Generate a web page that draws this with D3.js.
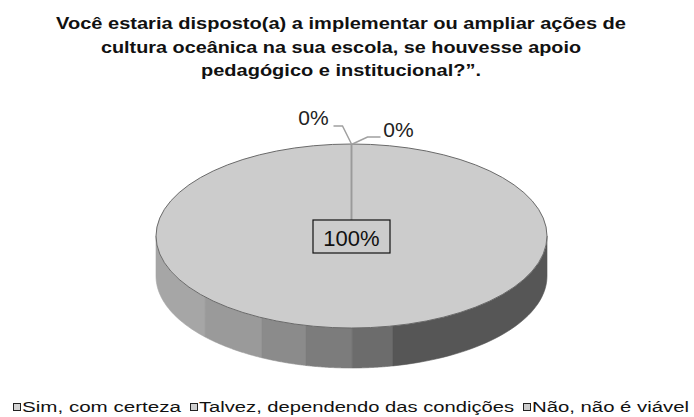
<!DOCTYPE html>
<html>
<head>
<meta charset="utf-8">
<script src="https://cdn.jsdelivr.net/npm/d3@7"></script>
<style>
  html, body { margin: 0; padding: 0; background: #ffffff; }
  svg { display: block; }
  text { font-family: "Liberation Sans", Arial, sans-serif; }
</style>
</head>
<body>
<svg id="chart" width="694" height="417"></svg>
<script>
// ---- data ----
const titleLines = [
  "Você estaria disposto(a) a implementar ou ampliar ações de",
  "cultura oceânica na sua escola, se houvesse apoio",
  "pedagógico e institucional?”."
];
const categories = ["Sim, com certeza", "Talvez, dependendo das condições", "Não, não é viável"];
const values = [100, 0, 0];
const sliceColors = ["#cccccc", "#b4b4b4", "#9c9c9c"];
const legendFill = ["#d4d4d4", "#d0d0d0", "#cccccc"];

// ---- layout ----
const cx = 351.5, cy = 236, rx = 195.5, ry = 92, depth = 40;
const svg = d3.select("#chart");

// title (slightly widened glyphs, as in the reference)
const titleWidths = [570, 480, 280];
svg.append("g").selectAll("text").data(titleLines).join("text")
  .attr("x", 341).attr("y", (d, i) => 29 + i * 23.5)
  .attr("text-anchor", "middle")
  .attr("font-size", 17).attr("font-weight", "bold").attr("fill", "#111")
  .attr("textLength", (d, i) => titleWidths[i])
  .attr("lengthAdjust", "spacingAndGlyphs")
  .text(d => d);

// pie
const pie = d3.pie().sort(null).value(d => d);
const arcs = pie(values);
const total = d3.sum(values);
const pct = d3.format(".0%");

// side bands (shading of the 3D rim, by horizontal position)
const bandEdges = [-1, -0.749, -0.458, -0.233, 0.003, 0.212, 1];
const bandColors = ["#a6a6a6", "#9a9a9a", "#8b8b8b", "#7c7c7c", "#6c6c6c", "#565656"];
const sideLine = d3.line();
const sideG = svg.append("g");
for (let b = 0; b < bandColors.length; b++) {
  const tA = Math.acos(bandEdges[b]);
  const tB = Math.acos(bandEdges[b + 1]);
  const ts = d3.range(0, 41).map(k => tA + (tB - tA) * k / 40);
  const top = ts.map(t => [cx + rx * Math.cos(t), cy + ry * Math.sin(t)]);
  const bot = ts.slice().reverse().map(t => [cx + rx * Math.cos(t), cy + ry * Math.sin(t) + depth]);
  sideG.append("path")
    .attr("d", sideLine(top.concat(bot)) + "Z")
    .attr("fill", bandColors[b])
    .attr("stroke", bandColors[b]).attr("stroke-width", 0.6);
}

// top face via d3.arc scaled to an ellipse
const arcGen = d3.arc().innerRadius(0).outerRadius(rx);
const topG = svg.append("g").attr("transform", `translate(${cx},${cy}) scale(1,${ry / rx})`);
topG.selectAll("path").data(arcs).join("path")
  .attr("d", arcGen)
  .attr("fill", (d, i) => sliceColors[i])
  .attr("stroke", "#6a6a6a").attr("stroke-width", 1)
  .attr("vector-effect", "non-scaling-stroke");

const rim = a => [cx + rx * Math.sin(a), cy - ry * Math.cos(a)];

// slice boundary line from centre to rim
const boundaries = Array.from(new Set(arcs.map(d => d.startAngle % (2 * Math.PI))));
svg.append("g").selectAll("line").data(boundaries).join("line")
  .attr("x1", cx).attr("y1", cy)
  .attr("x2", d => rim(d)[0]).attr("y2", d => rim(d)[1])
  .attr("stroke", "#9a9a9a").attr("stroke-width", 1.5);

// 100% label with box
const mainLabel = svg.append("g");
mainLabel.append("rect")
  .attr("x", cx - 38.5).attr("y", 220).attr("width", 77).attr("height", 33)
  .attr("fill", sliceColors[0]).attr("stroke", "#111").attr("stroke-width", 1.2);
mainLabel.append("text")
  .attr("x", cx).attr("y", 246)
  .attr("text-anchor", "middle").attr("font-size", 22).attr("fill", "#111")
  .text(pct(values[0] / total));

// 0% labels with leader lines
const anchor = rim(arcs[1].startAngle);
const leaders = [
  { pts: [[anchor[0], anchor[1]], [anchor[0] - 9, anchor[1] - 18], [anchor[0] - 18, anchor[1] - 18]],
    tx: anchor[0] - 38, ty: anchor[1] - 19, v: values[1] },
  { pts: [[anchor[0] + 1, anchor[1]], [anchor[0] + 16, anchor[1] - 7], [anchor[0] + 29, anchor[1] - 7]],
    tx: anchor[0] + 47, ty: anchor[1] - 7, v: values[2] }
];
const leaderLine = d3.line();
svg.append("g").selectAll("path").data(leaders).join("path")
  .attr("d", d => leaderLine(d.pts))
  .attr("fill", "none").attr("stroke", "#a0a0a0").attr("stroke-width", 1.5);
svg.append("g").selectAll("text").data(leaders).join("text")
  .attr("x", d => d.tx).attr("y", d => d.ty)
  .attr("text-anchor", "middle").attr("font-size", 21).attr("fill", "#222")
  .text(d => pct(d.v / total));

// legend
const legendX = [13, 190, 523];
const legendW = [159, 315, 157];
const lg = svg.append("g").selectAll("g").data(categories).join("g")
  .attr("transform", (d, i) => `translate(${legendX[i]},403)`);
lg.append("rect").attr("x", 0.5).attr("y", 0.5).attr("width", 7).attr("height", 7)
  .attr("fill", (d, i) => legendFill[i]).attr("stroke", "#222").attr("stroke-width", 1);
lg.append("text").attr("x", 9).attr("y", 9)
  .attr("font-size", 15.5).attr("fill", "#111")
  .attr("textLength", (d, i) => legendW[i])
  .attr("lengthAdjust", "spacingAndGlyphs")
  .text(d => d);
</script>
</body>
</html>
